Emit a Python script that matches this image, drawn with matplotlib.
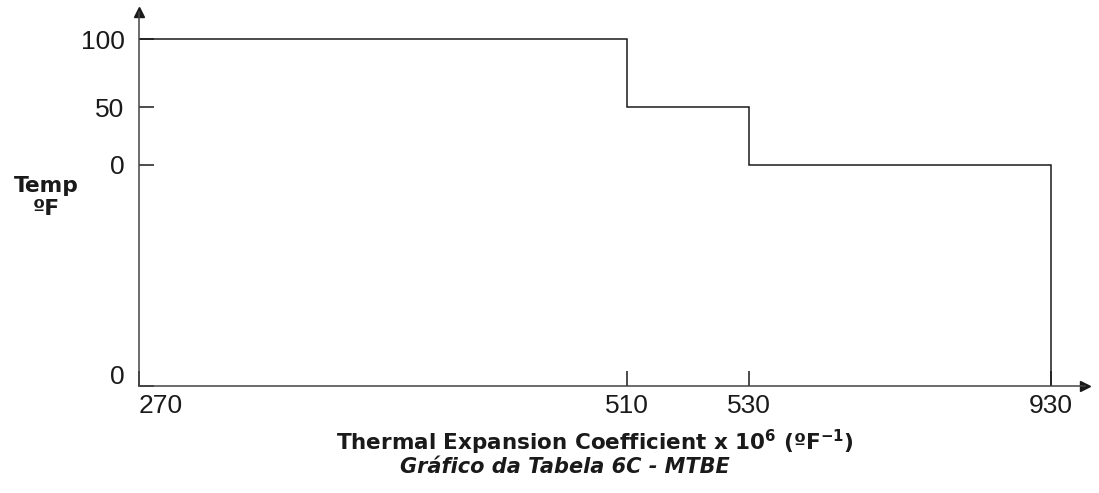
import numpy as np
import matplotlib
matplotlib.use("Agg")
import matplotlib.pyplot as plt
import matplotlib.transforms as mtransforms

plt.rcParams['font.family'] = ['Liberation Sans', 'DejaVu Sans']
plt.rcParams['mathtext.fontset'] = 'custom'
plt.rcParams['mathtext.rm'] = 'DejaVu Sans:bold'
plt.rcParams['mathtext.bf'] = 'DejaVu Sans:bold'
plt.rcParams['mathtext.it'] = 'DejaVu Sans:bold:italic'

# data: thermal expansion coefficient breakpoints and temperature levels
coef_edges = [270, 510, 530, 930]
temp_levels = [100, 50, 0]
y_floor = -200            # the lower "0" at the axis origin
y_ticks = [y_floor, 0, 50, 100]
y_tick_labels = ['0', '0', '50', '100']

# schematic (non-linear) axis layout: data value -> pixel distance from origin
x_nodes = [270, 510, 530, 930, 1010]
x_pix = [0, 488, 610, 912, 946]
y_nodes = [y_floor, 0, 50, 100, 150]
y_pix = [0, 221, 279, 347, 374]


def piecewise(nodes, pix):
    nodes = np.asarray(nodes, float)
    pix = np.asarray(pix, float)

    def fwd(v):
        return np.interp(v, nodes, pix, left=-1e3, right=2e3)

    def inv(p):
        return np.interp(p, pix, nodes)
    return fwd, inv


W, H = 1099, 493
fig = plt.figure(figsize=(W / 100, H / 100), dpi=100)
ax = fig.add_axes([139 / W, (H - 386) / H, 946 / W, 374 / H])
ax.set_xscale('function', functions=piecewise(x_nodes, x_pix))
ax.set_yscale('function', functions=piecewise(y_nodes, y_pix))
ax.set_xlim(270, 1010)
ax.set_ylim(y_floor, 150)

# step line
xs, ys = [], []
for i, t in enumerate(temp_levels):
    xs += [coef_edges[i], coef_edges[i + 1]]
    ys += [t, t]
xs += [coef_edges[-1]]
ys += [y_floor]
ax.plot(xs, ys, color='#1a1a1a', lw=1.1, solid_joinstyle='miter')

for s in ['top', 'right']:
    ax.spines[s].set_visible(False)
for s in ['left', 'bottom']:
    ax.spines[s].set_color('#444444')
    ax.spines[s].set_linewidth(1.1)

# arrow heads on the axes
ax.plot(1, 0, '>', color='#1a1a1a', ms=7, transform=ax.transAxes, clip_on=False)
ax.plot(0, 1, '^', color='#1a1a1a', ms=7, transform=ax.transAxes, clip_on=False)

ax.set_xticks(coef_edges)
ax.set_xticklabels([str(v) for v in coef_edges])
ax.set_yticks(y_ticks)
ax.set_yticklabels(y_tick_labels)
ax.tick_params(direction='in', length=11, width=1.1, color='#1a1a1a',
               labelsize=19, labelcolor='#1a1a1a')
ax.tick_params(axis='x', pad=6)
ax.tick_params(axis='y', pad=10.5)
ax.xaxis.get_majorticklabels()[0].set_horizontalalignment('left')
# the lower "0" sits a bit above the origin
lbl = ax.yaxis.get_majorticklabels()[0]
lbl.set_transform(lbl.get_transform() + mtransforms.ScaledTranslation(0, 0.11, fig.dpi_scale_trans))

lab_font = ['DejaVu Sans']
fig.text(595 / W, 1 - 450 / H, 'Thermal Expansion Coefficient x 10$^{6}$ (ºF$^{-1}$)',
         ha='center', va='baseline', fontsize=15.5, fontweight='bold', color='#1a1a1a',
         family=lab_font)
fig.text(565 / W, 1 - 473 / H, 'Gráfico da Tabela 6C - MTBE',
         ha='center', va='baseline', fontsize=15, fontweight='bold', style='italic',
         color='#1a1a1a', family=lab_font)
fig.text(46 / W, 1 - 192 / H, 'Temp', ha='center', va='baseline', fontsize=15.7,
         fontweight='bold', color='#1a1a1a', family=lab_font)
fig.text(46 / W, 1 - 215 / H, 'ºF', ha='center', va='baseline', fontsize=15.7,
         fontweight='bold', color='#1a1a1a', family=lab_font)

fig.savefig('out.png', dpi=100)
